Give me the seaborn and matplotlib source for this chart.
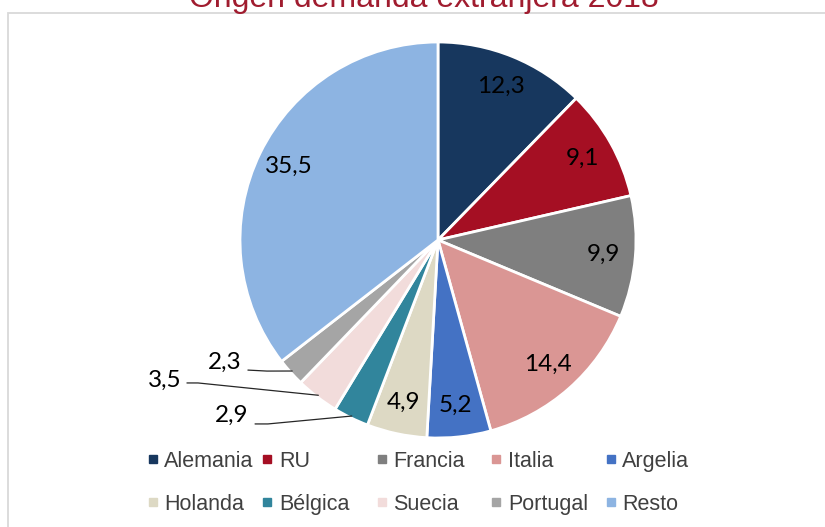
import matplotlib
matplotlib.use("Agg")
import matplotlib.pyplot as plt
from matplotlib.lines import Line2D
from matplotlib.patches import Rectangle
import numpy as np
import seaborn as sns

sns.set_style("white")
plt.rcParams['font.family'] = ['Liberation Sans', 'DejaVu Sans']

# data
countries = ['Alemania', 'RU', 'Francia', 'Italia', 'Argelia',
             'Holanda', 'Bélgica', 'Suecia', 'Portugal', 'Resto']
shares = [12.3, 9.1, 9.9, 14.4, 5.2, 4.9, 2.9, 3.5, 2.3, 35.5]
colors = ['#17375E', '#A50F23', '#7F7F7F', '#DA9694', '#4472C4',
          '#DDD9C4', '#31859C', '#F2DCDB', '#A5A5A5', '#8DB4E2']

# labels placed outside with leader lines: (text xy, line start, elbow)
outside = {
    'Bélgica': ((-1.040, -0.884), (-0.924, -0.929), (-0.859, -0.929)),
    'Suecia': ((-1.379, -0.707), (-1.268, -0.722), (-1.212, -0.722)),
    'Portugal': ((-1.076, -0.616), (-0.960, -0.657), (-0.864, -0.662)),
}

W, H = 825, 527
fig = plt.figure(figsize=(W / 100, H / 100), dpi=100)

# outer chart frame
fig.patches.append(Rectangle((8 / W, -0.05), 1.2, 1 - 13 / H + 0.05,
                             transform=fig.transFigure, fill=False,
                             edgecolor='#D9D9D9', linewidth=1.3, zorder=0))

fig.text(424 / W, 1 - 6.5 / H, 'Origen demanda extranjera 2018',
         ha='center', va='baseline', fontsize=23, color='#A01C2F')

r_px = 198
half = 250
ax = fig.add_axes([(438 - half) / W, (H - 240 - half) / H, 2 * half / W, 2 * half / H])
lim = half / r_px

wedges, _ = ax.pie(shares, colors=colors, startangle=90, counterclock=False,
                   wedgeprops=dict(edgecolor='white', linewidth=2))
ax.set_xlim(-lim, lim)
ax.set_ylim(-lim, lim)
ax.axis('off')

lab_font = dict(fontsize=17.5, family=['Lato', 'DejaVu Sans'], color='black')
for w, name, v in zip(wedges, countries, shares):
    txt = f"{v:.1f}".replace('.', ',')
    ang = np.deg2rad((w.theta1 + w.theta2) / 2)
    if name in outside:
        (tx, ty), p0, p1 = outside[name]
        ex, ey = 0.99 * np.cos(ang), 0.99 * np.sin(ang)
        ax.plot([p0[0], p1[0], ex], [p0[1], p1[1], ey], color='#262626',
                linewidth=0.9, clip_on=False)
        ax.text(tx, ty, txt, ha='center', va='center', **lab_font)
    else:
        ax.text(0.84 * np.cos(ang), 0.84 * np.sin(ang), txt, ha='center',
                va='center', **lab_font)

# legend: 5 uniform columns, 2 rows (row-wise order)
fs = 15.5
for col in range(5):
    idx = [col, col + 5]
    handles = [Line2D([], [], marker='s', linestyle='none', markersize=5.5,
                      color=colors[i]) for i in idx]
    x0 = (145 + col * 114.5) / W
    fig.legend(handles, [countries[i] for i in idx], loc='upper left',
               bbox_to_anchor=(x0, 1 - 451 / H), frameon=False, fontsize=fs,
               handlelength=0.7, handletextpad=0.2, borderpad=0,
               borderaxespad=0, labelspacing=1.0, labelcolor='#404040')

fig.savefig('out.png', dpi=100)
